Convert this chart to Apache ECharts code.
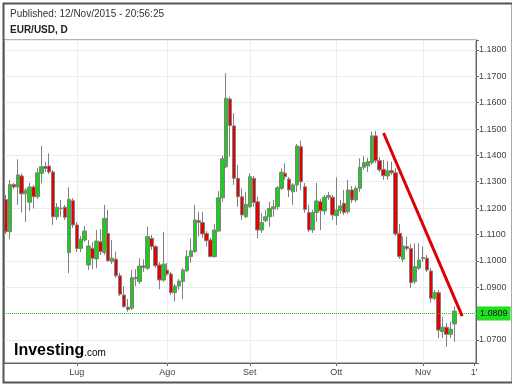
<!DOCTYPE html>
<html><head><meta charset="utf-8">
<script src="https://cdn.jsdelivr.net/npm/echarts@6/dist/echarts.min.js"></script>
<style>html,body{margin:0;padding:0;background:#fff}#c{width:512px;height:384px}</style>
</head><body><div id="c"></div>
<script>
const dates = [
'2015-06-05','2015-06-08','2015-06-09','2015-06-10','2015-06-11','2015-06-12','2015-06-15','2015-06-16','2015-06-17','2015-06-18',
'2015-06-19','2015-06-22','2015-06-23','2015-06-24','2015-06-25','2015-06-26','2015-06-29','2015-06-30','2015-07-01','2015-07-02',
'2015-07-03','2015-07-06','2015-07-07','2015-07-08','2015-07-09','2015-07-10','2015-07-13','2015-07-14','2015-07-15','2015-07-16',
'2015-07-17','2015-07-20','2015-07-21','2015-07-22','2015-07-23','2015-07-24','2015-07-27','2015-07-28','2015-07-29','2015-07-30',
'2015-07-31','2015-08-03','2015-08-04','2015-08-05','2015-08-06','2015-08-07','2015-08-10','2015-08-11','2015-08-12','2015-08-13',
'2015-08-14','2015-08-17','2015-08-18','2015-08-19','2015-08-20','2015-08-21','2015-08-24','2015-08-25','2015-08-26','2015-08-27',
'2015-08-28','2015-08-31','2015-09-01','2015-09-02','2015-09-03','2015-09-04','2015-09-07','2015-09-08','2015-09-09','2015-09-10',
'2015-09-11','2015-09-14','2015-09-15','2015-09-16','2015-09-17','2015-09-18','2015-09-21','2015-09-22','2015-09-23','2015-09-24',
'2015-09-25','2015-09-28','2015-09-29','2015-09-30','2015-10-01','2015-10-02','2015-10-05','2015-10-06','2015-10-07','2015-10-08',
'2015-10-09','2015-10-12','2015-10-13','2015-10-14','2015-10-15','2015-10-16','2015-10-19','2015-10-20','2015-10-21','2015-10-22',
'2015-10-23','2015-10-26','2015-10-27','2015-10-28','2015-10-29','2015-10-30','2015-11-02','2015-11-03','2015-11-04','2015-11-05',
'2015-11-06','2015-11-09','2015-11-10','2015-11-11','2015-11-12'
];
const futureDates = ['2015-11-13','2015-11-16','2015-11-17','2015-11-18','2015-11-19'];

const opens = [
1.1233,1.1110,1.1290,1.1280,1.1322,1.1254,1.1222,1.1280,1.1243,1.1332,
1.1357,1.1360,1.1337,1.1167,1.1200,1.1203,1.1031,1.1228,1.1136,1.1047,
1.1079,1.0984,1.1047,1.1007,1.1072,1.1031,1.1104,1.0997,1.1006,1.0943,
1.0870,1.0824,1.0820,1.0937,1.0921,1.0980,1.0972,1.1085,1.1054,1.0984,
1.0927,1.0965,1.0950,1.0879,1.0904,1.0921,1.0962,1.1016,1.1035,1.1152,
1.1145,1.1104,1.1079,1.1016,1.1113,1.1239,1.1357,1.1614,1.1512,1.1313,
1.1243,1.1167,1.1205,1.1313,1.1224,1.1117,1.1152,1.1167,1.1197,1.1205,
1.1275,1.1332,1.1310,1.1262,1.1288,1.1433,1.1281,1.1183,1.1117,1.1183,
1.1224,1.1189,1.1241,1.1241,1.1171,1.1190,1.1218,1.1186,1.1269,1.1231,
1.1275,1.1355,1.1360,1.1372,1.1474,1.1380,1.1347,1.1322,1.1342,1.1334,
1.1104,1.1006,1.1054,1.1047,1.0921,1.0972,1.1008,1.1010,1.0961,1.0858,
1.0879,1.0731,1.0748,1.0721,1.0760
];
const closes = [
1.1110,1.1290,1.1280,1.1326,1.1254,1.1268,1.1280,1.1243,1.1334,1.1357,
1.1350,1.1337,1.1167,1.1203,1.1198,1.1165,1.1233,1.1136,1.1047,1.1082,
1.1113,1.1056,1.1010,1.1075,1.1035,1.1161,1.1000,1.1010,1.0943,1.0873,
1.0826,1.0816,1.0936,1.0932,1.0980,1.0975,1.1092,1.1054,1.0981,1.0927,
1.0987,1.0950,1.0879,1.0904,1.0923,1.0965,1.1016,1.1038,1.1155,1.1146,
1.1102,1.1076,1.1016,1.1117,1.1239,1.1387,1.1617,1.1513,1.1313,1.1243,
1.1174,1.1214,1.1319,1.1221,1.1117,1.1145,1.1167,1.1199,1.1205,1.1277,
1.1336,1.1319,1.1269,1.1288,1.1436,1.1300,1.1195,1.1117,1.1183,1.1227,
1.1190,1.1241,1.1248,1.1174,1.1193,1.1208,1.1183,1.1269,1.1231,1.1275,
1.1355,1.1373,1.1377,1.1474,1.1380,1.1345,1.1323,1.1341,1.1334,1.1102,
1.1016,1.1056,1.1047,1.0917,1.0978,1.1003,1.1013,1.0965,1.0858,1.0879,
1.0737,1.0748,1.0721,1.0740,1.0809
];
const lows = [
1.1102,1.1082,1.1272,1.1212,1.1183,1.1148,1.1189,1.1199,1.1235,1.1294,
1.1337,1.1329,1.1136,1.1155,1.1167,1.1155,1.0953,1.1125,1.1033,1.1033,
1.1071,1.0965,1.0968,1.0972,1.1022,1.1022,1.0995,1.0988,1.0935,1.0866,
1.0821,1.0807,1.0813,1.0904,1.0912,1.0958,1.0965,1.1041,1.0973,1.0892,
1.0920,1.0942,1.0870,1.0845,1.0889,1.0855,1.0958,1.0992,1.1030,1.1092,
1.1087,1.1054,1.1013,1.1011,1.1109,1.1224,1.1352,1.1395,1.1288,1.1205,
1.1155,1.1162,1.1200,1.1205,1.1085,1.1106,1.1147,1.1129,1.1167,1.1193,
1.1269,1.1307,1.1242,1.1212,1.1262,1.1269,1.1182,1.1109,1.1106,1.1148,
1.1117,1.1174,1.1231,1.1155,1.1136,1.1178,1.1174,1.1178,1.1220,1.1223,
1.1262,1.1345,1.1337,1.1364,1.1371,1.1337,1.1307,1.1307,1.1326,1.1094,
1.1007,1.0995,1.1037,1.0896,1.0912,1.0965,1.0995,1.0958,1.0841,1.0851,
1.0706,1.0707,1.0674,1.0707,1.0693
];
const highs = [
1.1250,1.1307,1.1295,1.1385,1.1332,1.1276,1.1296,1.1288,1.1351,1.1436,
1.1375,1.1408,1.1345,1.1219,1.1231,1.1212,1.1279,1.1238,1.1147,1.1094,
1.1132,1.1079,1.1071,1.1117,1.1120,1.1212,1.1193,1.1079,1.1035,1.0954,
1.0904,1.0855,1.0965,1.0968,1.1010,1.1005,1.1129,1.1098,1.1060,1.0995,
1.1110,1.0992,1.0958,1.0912,1.0931,1.0973,1.1041,1.1085,1.1212,1.1186,
1.1186,1.1113,1.1087,1.1139,1.1265,1.1398,1.1712,1.1623,1.1560,1.1364,
1.1275,1.1262,1.1332,1.1322,1.1243,1.1180,1.1193,1.1224,1.1231,1.1284,
1.1351,1.1370,1.1318,1.1295,1.1443,1.1456,1.1295,1.1212,1.1193,1.1296,
1.1235,1.1250,1.1262,1.1250,1.1317,1.1231,1.1269,1.1307,1.1284,1.1284,
1.1389,1.1398,1.1391,1.1490,1.1493,1.1394,1.1383,1.1379,1.1376,1.1352,
1.1140,1.1092,1.1092,1.1064,1.1066,1.1066,1.1054,1.1022,1.0973,1.0889,
1.0889,1.0788,1.0764,1.0769,1.0826
];
const monthLabels = {'2015-07-01':'Lug','2015-08-03':'Ago','2015-09-01':'Set','2015-10-01':'Ott','2015-11-02':'Nov'};
const extraLabels = {'2015-11-19':"1'"};
const lastPrice = 1.0809;
const trendStart = ['2015-10-19', 1.1485];
const trendEnd = ['2015-11-16', 1.0790];
const yMin = 1.0612, yMax = 1.1838, yStep = 0.01;

const allCats = dates.concat(futureDates);
const candleData = dates.map((d, i) => [opens[i], closes[i], lows[i], highs[i]]);
const allLabels = Object.assign({}, monthLabels, extraLabels);

const chart = echarts.init(document.getElementById('c'), null, {renderer: 'canvas'});
const FONT = 'Liberation Sans, Arial, sans-serif';
chart.setOption({
  animation: false,
  backgroundColor: '#fff',
  textStyle: {fontFamily: FONT},
  grid: {left: 4, right: 36, top: 40, bottom: 21, show: true, borderColor: '#666', borderWidth: 1},
  xAxis: {
    type: 'category', data: allCats, boundaryGap: true,
    axisLine: {show: true, lineStyle: {color: '#666'}},
    axisTick: {show: true, alignWithLabel: true, length: 3, interval: (i, v) => v in allLabels, lineStyle: {color: '#666'}},
    axisLabel: {interval: (i, v) => v in allLabels, formatter: v => allLabels[v] || '', fontSize: 9, color: '#444', margin: 5, fontFamily: FONT},
    splitLine: {show: true, alignWithLabel: true, interval: (i, v) => v in monthLabels, lineStyle: {color: '#ececec', width: 1}}
  },
  yAxis: {
    type: 'value', position: 'right', min: yMin, max: yMax, minInterval: yStep, maxInterval: yStep, scale: true,
    axisLine: {show: true, lineStyle: {color: '#666'}},
    axisTick: {show: true, length: 3, lineStyle: {color: '#666'}},
    axisLabel: {fontSize: 9, color: '#444', margin: 3, fontFamily: FONT,
      formatter: v => Math.abs(v / yStep - Math.round(v / yStep)) < 1e-6 ? v.toFixed(4) : ''},
    splitLine: {show: true, lineStyle: {color: '#ececec', width: 1}}
  },
  series: [
    {
      type: 'candlestick', data: candleData, barWidth: 4,
      itemStyle: {color: '#18d018', color0: '#e80000', borderColor: '#808080', borderColor0: '#808080', borderWidth: 1},
      markLine: {
        silent: true, symbol: 'none', animation: false,
        data: [{yAxis: lastPrice}],
        lineStyle: {color: '#22cc22', type: 'dotted', width: 1},
        label: {position: 'end', formatter: () => lastPrice.toFixed(4), backgroundColor: '#1fe01f', color: '#111',
          fontSize: 9, padding: [3, 3, 2, 3], distance: 1, fontFamily: FONT}
      }
    },
    {
      type: 'line', data: [trendStart, trendEnd], symbol: 'none', silent: true, z: 5,
      lineStyle: {color: '#dd0000', width: 3}
    }
  ],
  graphic: [
    {type: 'rect', left: 1, top: 1, shape: {width: 509, height: 379}, style: {fill: 'none', stroke: '#555', lineWidth: 2}, silent: true, z: 100},
    {type: 'text', left: 10, top: 9, style: {text: 'Published: 12/Nov/2015 - 20:56:25', fill: '#333', font: '10px ' + FONT}},
    {type: 'text', left: 10, top: 25, style: {text: 'EUR/USD, D', fill: '#222', font: 'bold 10px ' + FONT}},
    {type: 'text', left: 14, top: 343, z: 50, style: {
      text: '{a|Investing}{b|.com}',
      rich: {a: {fontWeight: 'bold', fontSize: 16, fontFamily: FONT, color: '#111'},
             b: {fontSize: 10, fontFamily: FONT, color: '#555', padding: [4, 0, 0, 0]}}
    }}
  ]
});
</script>
</body></html>
